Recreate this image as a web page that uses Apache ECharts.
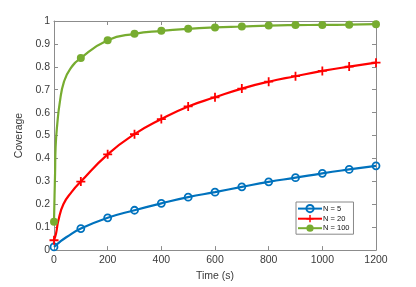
<!DOCTYPE html>
<html>
<head>
<meta charset="utf-8">
<script src="https://cdn.jsdelivr.net/npm/echarts@6/dist/echarts.min.js"></script>
<style>html,body{margin:0;padding:0;background:#fff}#c{width:416px;height:287px}</style>
</head>
<body>
<div id="c"></div>
<script>
// Data
var seriesNames = ['N = 5', 'N = 20', 'N = 100'];
var timeN5 = [0, 22, 47, 100, 200, 300, 400, 500, 600, 700, 800, 900, 1000, 1100, 1200];
var covN5  = [0.014, 0.036, 0.057, 0.094, 0.141, 0.174, 0.204, 0.231, 0.253, 0.276, 0.298, 0.316, 0.335, 0.352, 0.368];
var timeN20 = [0, 8, 16, 35, 66, 100, 200, 300, 400, 500, 600, 700, 800, 900, 1000, 1100, 1200];
var covN20  = [0.043, 0.075, 0.128, 0.200, 0.254, 0.299, 0.418, 0.506, 0.572, 0.627, 0.667, 0.705, 0.735, 0.759, 0.782, 0.801, 0.818];
var timeN100 = [0, 2, 4, 6, 12, 22, 37, 60, 100, 200, 300, 400, 500, 600, 700, 800, 900, 1000, 1100, 1200];
var covN100  = [0.124, 0.235, 0.335, 0.449, 0.548, 0.648, 0.734, 0.790, 0.838, 0.916, 0.944, 0.957, 0.966, 0.972, 0.976, 0.980, 0.982, 0.983, 0.984, 0.986];
var xTicks = [0, 200, 400, 600, 800, 1000, 1200];
var yTicks = [0, 0.1, 0.2, 0.3, 0.4, 0.5, 0.6, 0.7, 0.8, 0.9, 1];

function pairs(t, v) { return t.map(function (x, i) { return [x, v[i]]; }); }
function markerSize(s) { return function (val) { return val[0] % 100 === 0 ? s : 0; }; }

var axisGrey = '#8c8c8c';
var labelColor = '#3a3a3a';
var font = 'Liberation Sans, Arial, Helvetica, sans-serif';
var plusPath = 'path://M4,0H6V4H10V6H6V10H4V6H0V4H4Z';

var chart = echarts.init(document.getElementById('c'), null, {renderer: 'canvas'});
chart.setOption({
  animation: false,
  backgroundColor: '#fff',
  textStyle: {fontFamily: font},
  grid: {left: 54, right: 40, top: 21, bottom: 32, show: false},
  legend: {
    data: seriesNames,
    orient: 'vertical',
    left: 296, top: 202,
    itemWidth: 24, itemHeight: 9, itemGap: 1.5,
    padding: [2, 4, 2, 1],
    borderColor: '#888', borderWidth: 1,
    backgroundColor: '#fff',
    textStyle: {fontSize: 7.5, color: '#111', fontFamily: font, padding: [0, 0, 0, -4]}
  },
  xAxis: [{
    type: 'value', min: xTicks[0], max: xTicks[xTicks.length - 1], interval: 200,
    name: 'Time (s)', nameLocation: 'middle', nameGap: 16,
    nameTextStyle: {fontSize: 10.5, color: labelColor},
    axisLine: {show: true, lineStyle: {color: axisGrey, width: 1}},
    axisTick: {show: true, inside: true, length: 4, lineStyle: {color: axisGrey}},
    axisLabel: {fontSize: 10.5, color: labelColor, margin: 5, formatter: function (v) { return String(v); }},
    splitLine: {show: false}
  }, {
    type: 'value', position: 'top', min: xTicks[0], max: xTicks[xTicks.length - 1], interval: 200,
    axisLine: {show: true, onZero: false, lineStyle: {color: axisGrey, width: 1}},
    axisTick: {show: true, inside: true, length: 4, lineStyle: {color: axisGrey}},
    axisLabel: {show: false}, splitLine: {show: false}
  }],
  yAxis: [{
    type: 'value', min: yTicks[0], max: yTicks[yTicks.length - 1], interval: 0.1,
    name: 'Coverage', nameLocation: 'middle', nameGap: 20, nameRotate: 90,
    nameTextStyle: {fontSize: 10.5, color: labelColor},
    axisLine: {show: true, lineStyle: {color: axisGrey, width: 1}},
    axisTick: {show: true, inside: true, length: 4, lineStyle: {color: axisGrey}},
    axisLabel: {fontSize: 10.5, color: labelColor, margin: 4, formatter: function (v) { return String(Math.round(v * 10) / 10); }},
    splitLine: {show: false}
  }, {
    type: 'value', position: 'right', min: yTicks[0], max: yTicks[yTicks.length - 1], interval: 0.1,
    axisLine: {show: true, onZero: false, lineStyle: {color: axisGrey, width: 1}},
    axisTick: {show: true, inside: true, length: 4, lineStyle: {color: axisGrey}},
    axisLabel: {show: false}, splitLine: {show: false}
  }],
  series: [{
    name: seriesNames[0], type: 'line', smooth: 0.5,
    data: pairs(timeN5, covN5),
    symbol: 'circle', symbolSize: markerSize(7),
    lineStyle: {color: '#0072BD', width: 2.2},
    itemStyle: {color: 'rgba(255,255,255,0)', borderColor: '#0072BD', borderWidth: 1.8}
  }, {
    name: seriesNames[1], type: 'line', smooth: 0.5,
    data: pairs(timeN20, covN20),
    symbol: plusPath, symbolSize: markerSize(9),
    lineStyle: {color: '#FF0000', width: 2.2},
    itemStyle: {color: '#FF0000', borderWidth: 0}
  }, {
    name: seriesNames[2], type: 'line', smooth: 0.5,
    data: pairs(timeN100, covN100),
    symbol: 'circle', symbolSize: markerSize(8),
    lineStyle: {color: '#77AC30', width: 2.2},
    itemStyle: {color: '#77AC30', borderWidth: 0}
  }]
});
</script>
</body>
</html>
